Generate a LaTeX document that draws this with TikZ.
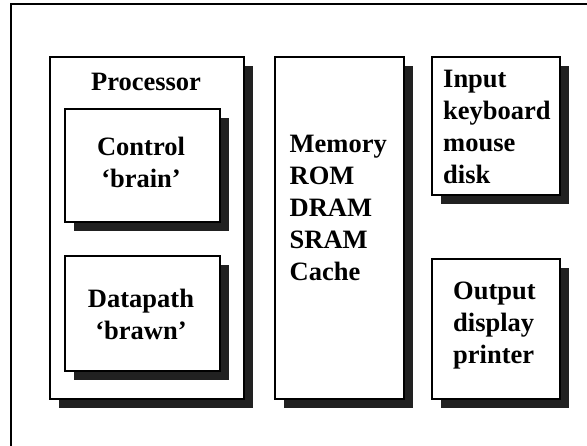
\documentclass[tikz,border=0pt]{standalone}
\usepackage{fontspec}
\setmainfont{Liberation Serif}
\usetikzlibrary{shadows}
\begin{document}
\begin{tikzpicture}[x=1pt,y=-1pt,
  box/.style={draw=black, line width=1.8pt, fill=white, inner sep=0pt, anchor=north west,
    drop shadow={shadow xshift=9pt, shadow yshift=-9pt, fill=black!87, opacity=1}},
  lbl/.style={font=\bfseries\fontsize{26.5}{31.8}\selectfont, inner sep=0pt}]
\useasboundingbox (0,0) rectangle (587,445);
\clip (0,0) rectangle (587,445);
\draw[line width=2pt] (11,470) -- (11,4) -- (610,4);
\node[box, minimum width=194pt, minimum height=342pt] (proc) at (49,56) {};
\node[box, minimum width=155pt, minimum height=113pt] (ctl) at (64,108) {};
\node[box, minimum width=155pt, minimum height=115pt] (dp) at (64,255) {};
\node[box, minimum width=129pt, minimum height=342pt] (mem) at (274,56) {};
\node[box, minimum width=128pt, minimum height=138pt] (in) at (431,56) {};
\node[box, minimum width=128pt, minimum height=140pt] (out) at (431,258) {};
\node[lbl, anchor=base] (tproc) at (146,90) {Processor};
\node[lbl, align=center, anchor=base] (tctl) at (141,187) {Control\\‘brain’};
\node[lbl, align=center, anchor=base] (tdp) at (141,339) {Datapath\\‘brawn’};
\node[lbl, align=left, anchor=base west] (tmem) at (289.5,280) {Memory\\ROM\\DRAM\\SRAM\\Cache};
\node[lbl, align=left, anchor=base west] (tin) at (443,183) {Input\\keyboard\\mouse\\disk};
\node[lbl, align=left, anchor=base west] (tout) at (453,363) {Output\\display\\printer};
\end{tikzpicture}
\end{document}
